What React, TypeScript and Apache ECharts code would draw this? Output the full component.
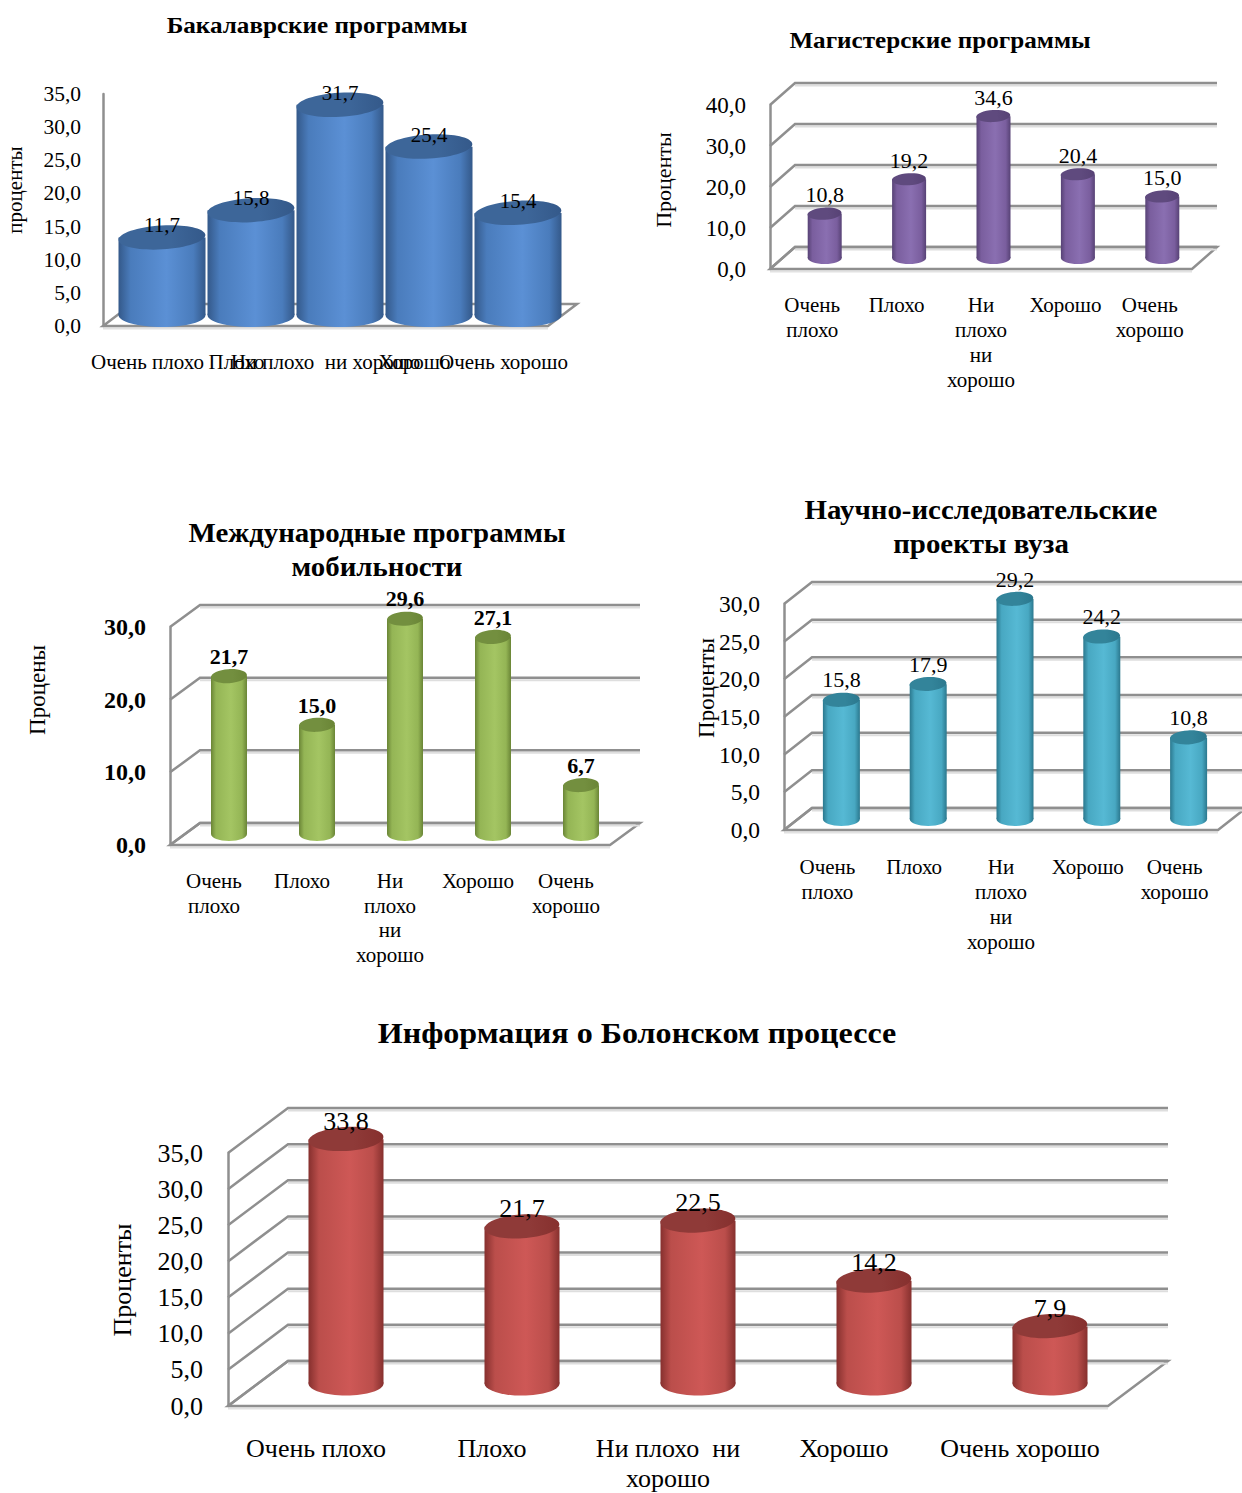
import React, { useEffect, useRef } from "react";
import * as echarts from "echarts";

const FONT = '"Liberation Serif", "Times New Roman", serif';
const GRID_COLOR = "#8f8f8f";

// ---------- categories ----------
const categoriesOneLine = ["Очень плохо", "Плохо", "Ни плохо  ни хорошо", "Хорошо", "Очень хорошо"];
const categoriesStacked = ["Очень\nплохо", "Плохо", "Ни\nплохо\nни\nхорошо", "Хорошо", "Очень\nхорошо"];
const categoriesBologna = ["Очень плохо", "Плохо", "Ни плохо  ни\nхорошо", "Хорошо", "Очень хорошо"];

// ---------- values (percent) ----------
const bachelorValues = [11.7, 15.8, 31.7, 25.4, 15.4];
const masterValues = [10.8, 19.2, 34.6, 20.4, 15.0];
const mobilityValues = [21.7, 15.0, 29.6, 27.1, 6.7];
const researchValues = [15.8, 17.9, 29.2, 24.2, 10.8];
const bolognaValues = [33.8, 21.7, 22.5, 14.2, 7.9];

// ---------- axis ticks ----------
const ticksBachelor = [0, 5, 10, 15, 20, 25, 30, 35];
const ticksMaster = [0, 10, 20, 30, 40];
const ticksMobility = [0, 10, 20, 30];
const ticksResearch = [0, 5, 10, 15, 20, 25, 30];
const ticksBologna = [0, 5, 10, 15, 20, 25, 30, 35];

// ---------- texts ----------
const titleBachelor = "Бакалаврские программы";
const titleMaster = "Магистерские программы";
const titleMobility = "Международные программы\nмобильности";
const titleResearch = "Научно-исследовательские\nпроекты вуза";
const titleBologna = "Информация о Болонском процессе";
const yNameBachelor = "проценты";
const yNameMaster = "Проценты";
const yNameMobility = "Процены";
const yNameResearch = "Проценты";
const yNameBologna = "Проценты";

const fmt = (v: number) => v.toFixed(1).replace(".", ",");

type Palette = { dark: string; mid: string; light: string; cap: string };
const blue: Palette = { dark: "#34598a", mid: "#4a7cbc", light: "#5b90d5", cap: "#3d6699" };
const purple: Palette = { dark: "#574275", mid: "#7a5e9e", light: "#8a6fb1", cap: "#5f4a7e" };
const green: Palette = { dark: "#6a8536", mid: "#94b555", light: "#a4c563", cap: "#738f3f" };
const teal: Palette = { dark: "#2b788e", mid: "#48a8c2", light: "#56b9d4", cap: "#33849a" };
const red: Palette = { dark: "#86302e", mid: "#bb4e4b", light: "#ce5856", cap: "#8f3a38" };

const TITLE_SX = 1.07;

const panels = [
  {
    title: titleBachelor, titleX: 317, titleY: 25, titleSize: 23.5, titleLH: 30,
    yName: yNameBachelor, yNameX: 15, yNameY: 190, yNameSize: 21,
    left: 103, top: 94, width: 445, height: 232,
    ticks: ticksBachelor, values: bachelorValues, cats: categoriesOneLine,
    dx: 29, dy: 22, barW: 87, ry: 12, labelGap: 12, walls: false,
    tickSize: 21.5, tickMargin: 22, catSize: 21, catLH: 24, catMargin: 24, valueSize: 21, bold: false, palette: blue,
  },
  {
    title: titleMaster, titleX: 940, titleY: 40, titleSize: 23.5, titleLH: 30,
    yName: yNameMaster, yNameX: 663, yNameY: 180, yNameSize: 22,
    left: 770, top: 105, width: 422, height: 164,
    ticks: ticksMaster, values: masterValues, cats: categoriesStacked,
    dx: 25, dy: 22, barW: 34, ry: 6, labelGap: 19, walls: true,
    tickSize: 23, tickMargin: 24, catSize: 21, catLH: 25, catMargin: 23, valueSize: 22, bold: false, palette: purple,
  },
  {
    title: titleMobility, titleX: 377, titleY: 550, titleSize: 27, titleLH: 34,
    yName: yNameMobility, yNameX: 37, yNameY: 690, yNameSize: 23,
    left: 170, top: 627, width: 440, height: 218,
    ticks: ticksMobility, values: mobilityValues, cats: categoriesStacked,
    dx: 30, dy: 22, barW: 36, ry: 7, labelGap: 20, walls: true,
    tickSize: 24, tickMargin: 24, catSize: 21, catLH: 24.5, catMargin: 24, valueSize: 22, bold: true, palette: green,
  },
  {
    title: titleResearch, titleX: 981, titleY: 527, titleSize: 27, titleLH: 34,
    yName: yNameResearch, yNameX: 706, yNameY: 688, yNameSize: 23,
    left: 784, top: 604, width: 434, height: 226,
    ticks: ticksResearch, values: researchValues, cats: categoriesStacked,
    dx: 28, dy: 22, barW: 37, ry: 7, labelGap: 20, walls: true,
    tickSize: 23.5, tickMargin: 24, catSize: 21, catLH: 25, catMargin: 24, valueSize: 22, bold: false, palette: teal,
  },
  {
    title: titleBologna, titleX: 637, titleY: 1033, titleSize: 30, titleLH: 34,
    yName: yNameBologna, yNameX: 122, yNameY: 1280, yNameSize: 26,
    left: 228, top: 1153, width: 880, height: 255,
    ticks: ticksBologna, values: bolognaValues, cats: categoriesBologna,
    dx: 60, dy: 45, barW: 75, ry: 12, labelGap: 18, walls: true,
    tickSize: 26, tickMargin: 25, catSize: 26, catLH: 30, catMargin: 27, valueSize: 26, bold: false, palette: red,
  },
];

function buildOption() {
  const grid: any[] = [];
  const xAxis: any[] = [];
  const yAxis: any[] = [];
  const series: any[] = [];
  const graphic: any[] = [];

  panels.forEach((p, i) => {
    grid.push({ left: p.left, top: p.top, width: p.width, height: p.height });
    xAxis.push({
      type: "category",
      gridIndex: i,
      data: p.cats,
      axisLine: { show: false },
      axisTick: { show: false },
      splitLine: { show: false },
      axisLabel: {
        interval: 0,
        margin: p.catMargin,
        fontFamily: FONT,
        fontSize: p.catSize,
        lineHeight: p.catLH,
        color: "#000",
      },
    });
    const step = p.ticks[1] - p.ticks[0];
    yAxis.push({
      type: "value",
      gridIndex: i,
      min: p.ticks[0],
      max: p.ticks[p.ticks.length - 1],
      interval: step,
      axisLine: { show: true, lineStyle: { color: GRID_COLOR, width: 2.5 } },
      axisTick: { show: false },
      splitLine: { show: false },
      axisLabel: {
        margin: p.tickMargin,
        formatter: (v: number) => fmt(v),
        fontFamily: FONT,
        fontSize: p.tickSize,
        fontWeight: p.bold ? "bold" : "normal",
        color: "#000",
      },
    });

    // floor
    series.push({
      type: "custom",
      xAxisIndex: i,
      yAxisIndex: i,
      z: 1,
      silent: true,
      clip: false,
      data: [[0, p.ticks[0]]],
      encode: { x: 0, y: 1 },
      renderItem: (params: any, api: any) => {
        const cs = params.coordSys;
        const y0 = api.coord([0, api.value(1)])[1];
        const x0 = cs.x;
        const x1 = cs.x + cs.width;
        return {
          type: "group",
          children: [
            {
              type: "line",
              shape: { x1: x0, y1: y0 + 2.5, x2: x1, y2: y0 + 2.5 },
              style: { stroke: "#e2e2e2", lineWidth: 2 },
            },
            {
              type: "polygon",
              shape: { points: [[x0, y0], [x1, y0], [x1 + p.dx, y0 - p.dy], [x0 + p.dx, y0 - p.dy]] },
              style: { fill: "none", stroke: GRID_COLOR, lineWidth: 2.5, lineJoin: "miter" },
            },
          ],
        };
      },
    });

    // back wall gridlines + side wall diagonals
    if (p.walls) {
      series.push({
        type: "custom",
        xAxisIndex: i,
        yAxisIndex: i,
        z: 1,
        silent: true,
        clip: false,
        data: p.ticks.map((t) => [0, t]),
        encode: { x: 0, y: 1 },
        renderItem: (params: any, api: any) => {
          const cs = params.coordSys;
          const y = api.coord([0, api.value(1)])[1];
          const x0 = cs.x;
          const x1 = cs.x + cs.width;
          return {
            type: "group",
            children: [
              {
                type: "line",
                shape: { x1: x0 + p.dx, y1: y - p.dy + 2.5, x2: x1 + p.dx, y2: y - p.dy + 2.5 },
                style: { stroke: "#dedede", lineWidth: 2 },
              },
              {
                type: "polyline",
                shape: { points: [[x0, y], [x0 + p.dx, y - p.dy], [x1 + p.dx, y - p.dy]] },
                style: { fill: "none", stroke: GRID_COLOR, lineWidth: 2.5, lineJoin: "miter" },
              },
            ],
          };
        },
      });
    }

    // cylinders
    const pal = p.palette;
    series.push({
      type: "custom",
      xAxisIndex: i,
      yAxisIndex: i,
      z: 3,
      clip: false,
      data: p.values.map((v, k) => [k, v]),
      encode: { x: 0, y: 1 },
      renderItem: (params: any, api: any) => {
        const idx = api.value(0);
        const v = api.value(1);
        const base = api.coord([idx, 0]);
        const top = api.coord([idx, v]);
        const cx = base[0] + p.dx / 2;
        const yb = base[1] - p.dy / 2;
        const yt = top[1] - p.dy / 2;
        const rx = p.barW / 2;
        const grad = new echarts.graphic.LinearGradient(0, 0, 1, 0, [
          { offset: 0, color: pal.dark },
          { offset: 0.14, color: pal.mid },
          { offset: 0.55, color: pal.light },
          { offset: 0.86, color: pal.mid },
          { offset: 1, color: pal.dark },
        ]);
        const capGrad = new echarts.graphic.LinearGradient(0, 0, 1, 0, [
          { offset: 0, color: pal.cap },
          { offset: 0.6, color: pal.cap },
          { offset: 1, color: pal.dark },
        ]);
        return {
          type: "group",
          children: [
            { type: "ellipse", shape: { cx, cy: yb, rx, ry: p.ry }, style: { fill: grad } },
            { type: "rect", shape: { x: cx - rx, y: yt, width: p.barW, height: Math.max(0, yb - yt) }, style: { fill: grad } },
            {
              type: "ellipse",
              shape: { cx, cy: yt, rx, ry: p.ry },
              rotation: 0.06,
              originX: cx,
              originY: yt,
              style: { fill: capGrad },
            },
            {
              type: "text",
              z2: 10,
              style: {
                text: fmt(v),
                x: cx,
                y: yt - p.labelGap,
                align: "center",
                textAlign: "center",
                verticalAlign: "middle",
                textVerticalAlign: "middle",
                fontFamily: FONT,
                fontSize: p.valueSize,
                fontWeight: p.bold ? "bold" : "normal",
                fill: "#000",
              },
            },
          ],
        };
      },
    });

    // title
    graphic.push({
      type: "text",
      x: p.titleX,
      y: p.titleY,
      scaleX: TITLE_SX,
      style: {
        text: p.title,
        align: "center",
        textAlign: "center",
        verticalAlign: "middle",
        textVerticalAlign: "middle",
        fontFamily: FONT,
        fontSize: p.titleSize,
        fontWeight: "bold",
        lineHeight: p.titleLH,
        fill: "#000",
      },
    });
    // y axis name
    graphic.push({
      type: "text",
      x: p.yNameX,
      y: p.yNameY,
      rotation: Math.PI / 2,
      style: {
        text: p.yName,
        align: "center",
        textAlign: "center",
        verticalAlign: "middle",
        textVerticalAlign: "middle",
        fontFamily: FONT,
        fontSize: p.yNameSize,
        fill: "#000",
      },
    });
  });

  return {
    animation: false,
    backgroundColor: "#ffffff",
    grid,
    xAxis,
    yAxis,
    series,
    graphic,
  };
}

export default function App() {
  const ref = useRef<HTMLDivElement>(null);
  useEffect(() => {
    if (!ref.current) return;
    const chart = echarts.init(ref.current, undefined, { renderer: "svg" });
    chart.setOption(buildOption() as any);
    return () => chart.dispose();
  }, []);
  return (
    <div
      ref={ref}
      style={{ position: "absolute", left: 0, top: 0, width: 1242, height: 1493, background: "#fff" }}
    />
  );
}
